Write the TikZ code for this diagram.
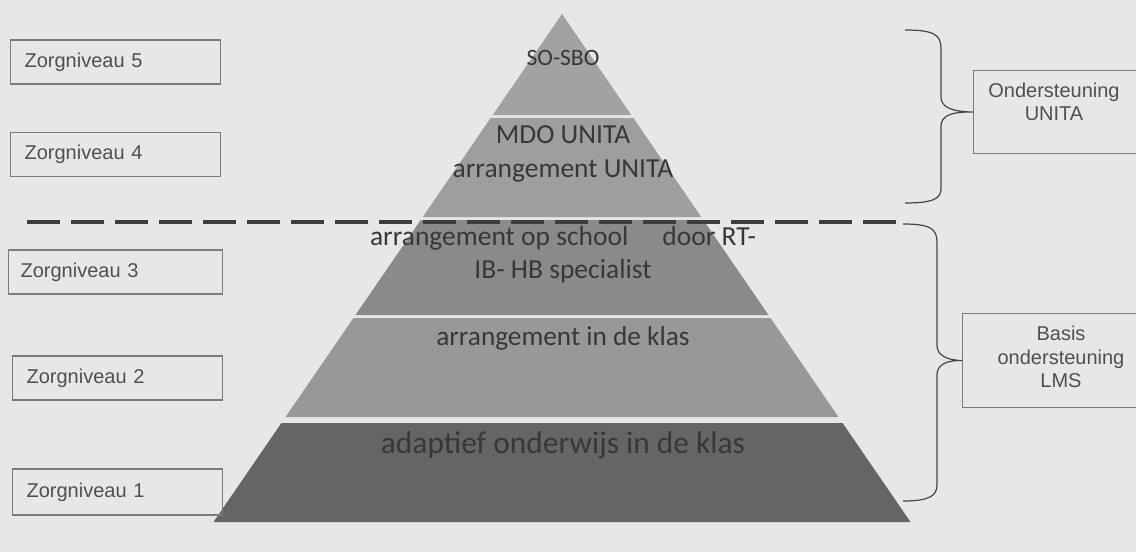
\documentclass[tikz,border=0pt]{standalone}
\usepackage{fontspec}
\setmainfont{Carlito}
\newfontfamily\arialfont{Liberation Sans}
\definecolor{paper}{HTML}{E7E7E9}
\definecolor{lay5}{HTML}{A2A2A2}
\definecolor{lay4}{HTML}{9E9E9E}
\definecolor{lay3}{HTML}{8A8A8A}
\definecolor{lay2}{HTML}{989898}
\definecolor{lay1}{HTML}{656565}
\definecolor{laytxt}{HTML}{383838}
\definecolor{boxline}{HTML}{7C7C7C}
\definecolor{boxtxt}{HTML}{505050}
\definecolor{inkline}{HTML}{454545}
\begin{document}
\begin{tikzpicture}[x=1pt,y=-1pt,
    zbox/.style={draw=boxline,line width=1.2pt,anchor=west,minimum height=44pt,
      text width=182pt,inner xsep=14pt,align=left,text=boxtxt,
      font=\arialfont\fontsize{20}{23}\selectfont},
    sidebox/.style={draw=boxline,line width=1.2pt,anchor=north west},
    sidetext/.style={align=center,text=boxtxt,font=\arialfont\fontsize{20}{23.5}\selectfont},
    laytext/.style={anchor=base,text=laytxt,inner sep=0pt},
    bracestroke/.style={draw=inkline,line width=1.2pt},
    splitline/.style={draw=inkline!90!black,line width=4pt,dash pattern=on 33pt off 11pt}]
  \clip (0,0) rectangle (1136,552);
  \fill[paper] (0,0) rectangle (1136,552);
  \foreach \t/\b/\c in {14/115/lay5,118/217/lay4,220/315/lay3,318/417/lay2,423/522/lay1}
    \fill[\c] ({562-0.686*(\t-14)},\t) -- ({562+0.686*(\t-14)},\t)
      -- ({562+0.686*(\b-14)},\b) -- ({562-0.686*(\b-14)},\b) -- cycle;
  \node[laytext,font=\fontsize{23.5}{28}\selectfont] (sosbo) at (563,65) {SO-SBO};
  \node[laytext,font=\fontsize{27.5}{33}\selectfont] (mdo) at (563,143) {MDO UNITA};
  \node[laytext,font=\fontsize{27.5}{33}\selectfont] (arr4) at (563,177) {arrangement UNITA};
  \node[laytext,font=\fontsize{27.5}{33}\selectfont] (arr3) at (563,245) {arrangement op school\hspace{34pt}door RT-};
  \node[laytext,font=\fontsize{27.5}{33}\selectfont] (ib3) at (563,278) {IB- HB specialist};
  \node[laytext,font=\fontsize{27.3}{33}\selectfont] (arr2) at (563,345) {arrangement in de klas};
  \node[laytext,font=\fontsize{31.4}{37}\selectfont] (ada1) at (563,453) {adaptief onderwijs in de klas};
  \coordinate (dl) at (27,222);
  \coordinate (dr) at (898,222);
  \draw[splitline] (dl) -- (dr);
  \node[zbox] (z5) at (10,62) {Zorgniveau 5};
  \node[zbox] (z4) at (10,154.5) {Zorgniveau 4};
  \node[zbox,inner xsep=12pt,text width=190pt] (z3) at (8,272) {Zorgniveau 3};
  \node[zbox,text width=182pt] (z2) at (12,378) {Zorgniveau 2};
  \node[zbox,text width=182pt,minimum height=46pt] (z1) at (12,492) {Zorgniveau 1};
  \node[sidebox,minimum width=185pt,minimum height=83pt] (ou) at (973,70) {};
  \node[sidetext] (outxt) at (1054,102) {Ondersteuning\\UNITA};
  \node[sidebox,minimum width=195pt,minimum height=94pt] (bl) at (962,313) {};
  \node[sidetext] (bltxt) at (1061,357) {Basis\\ondersteuning\\LMS};
  \coordinate (ut) at (905,30);
  \coordinate (ub) at (905,203);
  \coordinate (lt) at (903,224);
  \coordinate (lb) at (903,501);
  \begin{scope}[bracestroke]
    \draw (ut) .. controls (932,30) and (941,34) .. (941,48) -- (941,97)
      .. controls (941,107) and (951,111.5) .. (ou.west)
      .. controls (951,111.5) and (941,116) .. (941,126) -- (941,189)
      .. controls (941,199) and (932,203) .. (ub);
    \draw (lt) .. controls (929,224) and (937,228) .. (937,242) -- (937,345)
      .. controls (937,355) and (946,360) .. (bl.west)
      .. controls (946,360) and (937,365) .. (937,375) -- (937,485)
      .. controls (937,496) and (929,501) .. (lb);
  \end{scope}
\end{tikzpicture}
\end{document}
